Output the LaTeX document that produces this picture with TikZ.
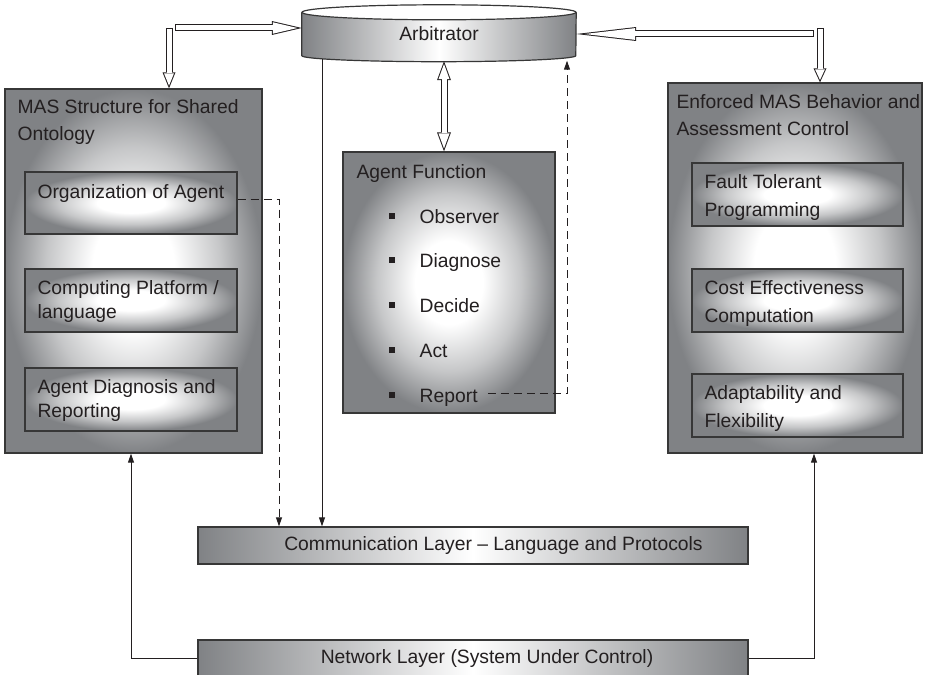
\documentclass[tikz,border=0pt]{standalone}
\usepackage{fontspec}
\setmainfont{Liberation Sans}
\usepackage{tikz}
\usetikzlibrary{arrows.meta, positioning, backgrounds}

\definecolor{pgray}{RGB}{128,130,133}
\definecolor{edge}{RGB}{55,55,55}
\definecolor{ink}{RGB}{35,31,32}
\newcommand{\sqbul}{\raisebox{4.5pt}{\rule{5.5pt}{5.5pt}}\hspace{25pt}}
\pgfdeclareradialshading{glow}{\pgfpoint{0bp}{0bp}}{color(0bp)=(white); color(8bp)=(white);
  color(17bp)=(pgray!45!white); color(25bp)=(pgray); color(50bp)=(pgray)}

\tikzset{
  panel/.style={rectangle, inner sep=0pt, shade, shading=glow, draw=edge, line width=1.3pt},
  layer/.style={rectangle, inner sep=0pt, left color=pgray, right color=pgray, middle color=white,
    draw=edge, line width=1.3pt, minimum width=550pt, minimum height=37pt,
    text=ink, font=\fontsize{19.3pt}{24pt}\selectfont},
  ttl/.style={inner sep=0pt, align=left, text=ink, font=\fontsize{19.3pt}{27pt}\selectfont},
  lbl/.style={inner sep=0pt, align=left, text=ink, font=\fontsize{19.3pt}{24pt}\selectfont},
  lblr/.style={inner sep=0pt, align=left, text=ink, font=\fontsize{19.3pt}{27.5pt}\selectfont},
  itm/.style={inner sep=0pt, text=ink, font=\fontsize{19.3pt}{24pt}\selectfont},
  arr/.style={draw=ink, line width=1pt, -{Triangle[length=9pt,width=6pt]}},
  dsh/.style={arr, dash pattern=on 8pt off 5pt},
  hollow/.style n args={5}{draw=ink, line width=7pt, -{Triangle[length=#1,width=#2,line width=0pt]},
    postaction={draw=white, line width=5pt, shorten <=1pt, shorten >=#5,
      -{Triangle[length=#3,width=#4,line width=0pt]}}},
  hollowboth/.style n args={5}{draw=ink, line width=7pt,
    {Triangle[length=#1,width=#2,line width=0pt]}-{Triangle[length=#1,width=#2,line width=0pt]},
    postaction={draw=white, line width=5pt, shorten <=#5, shorten >=#5,
      {Triangle[length=#3,width=#4,line width=0pt]}-{Triangle[length=#3,width=#4,line width=0pt]}}},
}

\begin{document}
\begin{tikzpicture}[x=1pt, y=1pt]
  \clip (0,0) rectangle (928,-674);
  % arbitrator drum
  \node[itm, minimum width=274pt, minimum height=43pt] (arb) at (439,-34) {Arbitrator};
  \begin{scope}[on background layer]
    \shade[left color=pgray, right color=pgray, middle color=white]
      (arb.north west) -- (arb.south west) arc[start angle=180, end angle=360, x radius=137, y radius=6]
      -- (arb.north east) arc[start angle=0, end angle=180, x radius=137, y radius=7.5] -- cycle;
    \draw[edge, line width=1.2pt] (arb.north west) -- (arb.south west)
      arc[start angle=180, end angle=360, x radius=137, y radius=6] -- (arb.north east);
    \draw[edge, line width=1.2pt, fill=white] (arb.north) ellipse[x radius=137, y radius=7.5];
  \end{scope}

  % big panels
  \node[panel, minimum width=257pt, minimum height=364pt] (mas) at (133.5,-271) {};
  \node[panel, minimum width=212pt, minimum height=261pt] (func) at (449,-282.5) {};
  \node[panel, minimum width=254pt, minimum height=370pt] (enf) at (795,-268) {};
  % inner boxes
  \node[panel, minimum width=212pt, minimum height=62pt] (org) at (131,-203) {};
  \node[panel, minimum width=212pt, minimum height=63pt] (comp) at (131,-300.5) {};
  \node[panel, minimum width=212pt, minimum height=63pt] (ddiag) at (131,-399.5) {};
  \node[panel, minimum width=211pt, minimum height=63pt] (fault) at (797.5,-194.5) {};
  \node[panel, minimum width=211pt, minimum height=63pt] (cost) at (797.5,-300.5) {};
  \node[panel, minimum width=211pt, minimum height=63pt] (adapt) at (797.5,-405.5) {};
  % layers
  \node[layer] (comm) at (473,-545.5) {\hspace*{41pt}Communication Layer – Language and Protocols};
  \node[layer] (net) at (473,-658.5) {\hspace*{28pt}Network Layer (System Under Control)};

  % texts
  \node[ttl, below right=11pt and 13pt of mas.north west] (mast) {MAS Structure for Shared\\Ontology};
  \node[ttl, below right=12pt and 9pt of enf.north west] (enft) {Enforced MAS Behavior and\\Assessment Control};
  \node[ttl, below right=13pt and 14pt of func.north west] (funct) {Agent Function};
  \node[lbl, below right=13pt and 13pt of org.north west] (orgt) {Organization of Agent};
  \node[lbl, below right=12pt and 13pt of comp.north west] (compt) {Computing Platform /\\language};
  \node[lbl, below right=12pt and 13pt of ddiag.north west] (ddiagt) {Agent Diagnosis and\\Reporting};
  \node[lblr, below right=12pt and 13pt of fault.north west] (faultt) {Fault Tolerant\\Programming};
  \node[lblr, below right=12pt and 13pt of cost.north west] (costt) {Cost Effectiveness\\Computation};
  \node[lblr, below right=12pt and 13pt of adapt.north west] (adaptt) {Adaptability and\\Flexibility};
  \node[itm, anchor=base west] (obs) at (389,-223) {\sqbul Observer};
  \node[itm, anchor=base west] (dgn) at (389,-267) {\sqbul Diagnose};
  \node[itm, anchor=base west] (dcd) at (389,-312) {\sqbul Decide};
  \node[itm, anchor=base west] (act) at (389,-357) {\sqbul Act};
  \node[itm, anchor=base west] (rep) at (389,-402) {\sqbul Report};

  % hollow arrows to and from the arbitrator
  \coordinate (lcorn) at (169,-28);
  \coordinate (rcorn) at (820,-28);
  \coordinate (rtail) at (814,-34);
  \draw[hollow={30pt}{14pt}{24.6pt}{11.5pt}{4.4pt}] ([xshift=6pt]lcorn) -- ([yshift=6pt]arb.west);
  \draw[hollow={16pt}{13pt}{12.3pt}{10pt}{2.7pt}] (lcorn) -- (lcorn |- mas.north);
  \draw[hollow={60pt}{14pt}{50.4pt}{11.8pt}{8.6pt}] (rtail) -- (arb.east);
  \draw[hollow={14pt}{13pt}{10.6pt}{9.9pt}{2.4pt}] (rcorn) -- (rcorn |- enf.north);
  \draw[hollowboth={19pt}{14pt}{15.1pt}{11.1pt}{2.9pt}] ([xshift=5pt,yshift=-5.5pt]arb.south) -- ([xshift=-5pt]func.north);

  % thin connectors
  \coordinate (sol) at ([xshift=-117pt,yshift=-3pt]arb.south);
  \draw[arr] (sol) -- (sol |- comm.north);
  \draw[dsh] ([yshift=4pt]org.east) -| ([xshift=-194pt]comm.north);
  \draw[dsh] ([xshift=10pt,yshift=4pt]rep.east) -| ([xshift=128pt,yshift=-5pt]arb.south);
  \draw[arr] (net.west) -| ([xshift=-2.5pt]mas.south);
  \draw[arr] (net.east) -| ([xshift=19pt]enf.south);
\end{tikzpicture}
\end{document}
